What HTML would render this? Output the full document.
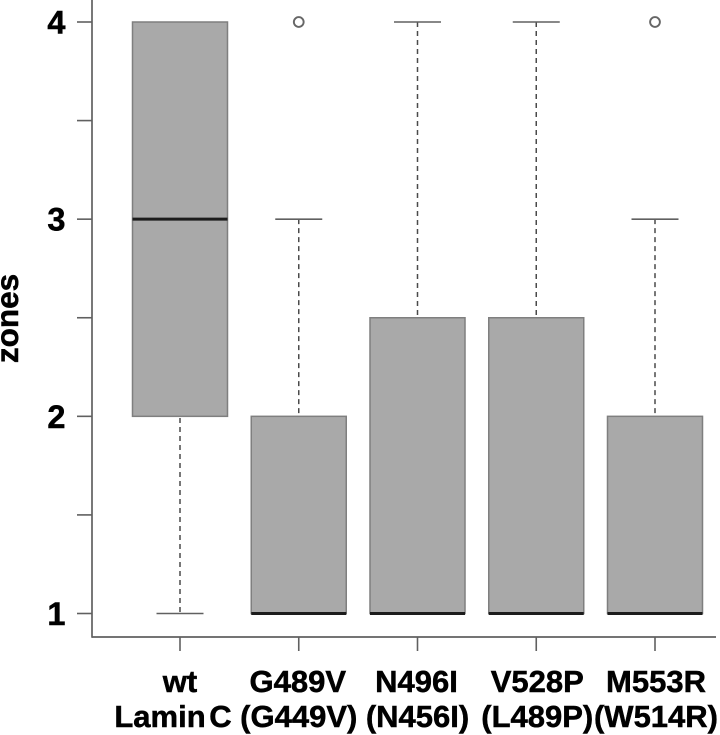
<!DOCTYPE html>
<html>
<head>
<meta charset="utf-8">
<style>
html,body{margin:0;padding:0;background:#fff;width:720px;height:735px;overflow:hidden}
svg{display:block}
text{font-family:"Liberation Sans",Arial,sans-serif;font-weight:bold;fill:#000;stroke:#000;stroke-width:0.5px}
#chart{filter:blur(0.35px)}
</style>
</head>
<body>
<svg id="chart" xmlns="http://www.w3.org/2000/svg" width="720" height="735" viewBox="0 0 720 735"></svg>
<script>
const categories = ["wt", "G489V", "N496I", "V528P", "M553R"];
const sublabels = ["Lamin C", "(G449V)", "(N456I)", "(L489P)", "(W514R)"];
const q1Values = [2, 1, 1, 1, 1];
const medianValues = [3, 1, 1, 1, 1];
const q3Values = [4, 2, 2.5, 2.5, 2];
const whiskerLowValues = [1, 1, 1, 1, 1];
const whiskerHighValues = [4, 3, 4, 4, 3];
const outlierValues = [[], [4], [], [], [4]];
const yTicks = [1, 1.5, 2, 2.5, 3, 3.5, 4];
const yTickLabels = ["1", "", "2", "", "3", "", "4"];

const NS = "http://www.w3.org/2000/svg";
const svg = document.getElementById("chart");
const yScale = v => 613.5 - (v - 1) * (613.5 - 22) / 3;
const xScale = i => 180 + i * 118.75;
const boxW = 95, capW = 47;
const labelNudge = [0, -1, -1, 1, 1];
const sublabelNudge = [-7, 0, 0, 1, 1];

function add(tag, attrs) {
  const el = document.createElementNS(NS, tag);
  for (const k in attrs) el.setAttribute(k, attrs[k]);
  svg.appendChild(el);
  return el;
}

categories.forEach((c, i) => {
  const x = xScale(i);
  const key = c.toLowerCase();

  const stem = add("line", {x1: x, x2: x, y1: yScale(whiskerHighValues[i]), y2: yScale(whiskerLowValues[i]), stroke: "#4a4a4a", "stroke-width": 1.5, "stroke-dasharray": "5 4"});
  
  

  [whiskerLowValues[i], whiskerHighValues[i]].forEach(v => {
    if (v === q1Values[i] || v === q3Values[i]) return;
    const cap = add("line", {x1: x - capW / 2, x2: x + capW / 2, y1: yScale(v), y2: yScale(v), stroke: "#606060", "stroke-width": 1.6});
    
    
  });

  const box = add("rect", {x: x - boxW / 2, y: yScale(q3Values[i]), width: boxW, height: yScale(q1Values[i]) - yScale(q3Values[i]), fill: "#a9a9a9", stroke: "#7f7f7f", "stroke-width": 1.5});
  
  

  const med = add("line", {x1: x - boxW / 2, x2: x + boxW / 2, y1: yScale(medianValues[i]), y2: yScale(medianValues[i]), stroke: "#1c1c1c", "stroke-width": 3});
  
  

  outlierValues[i].forEach(v => {
    const o = add("circle", {cx: x, cy: yScale(v), r: 4.9, fill: "#fff", stroke: "#666", "stroke-width": 1.9});
    
    
  });

  const tick = add("line", {x1: x, x2: x, y1: 637, y2: 651, stroke: "#606060", "stroke-width": 1.6});
  
  

  const t1 = add("text", {x: x + labelNudge[i], y: 692, "text-anchor": "middle", "font-size": 31});
  t1.textContent = c;
  
  

  const t2 = add("text", {x: x + sublabelNudge[i], y: 727, "text-anchor": "middle", "font-size": 31});
  if (i === 0) t2.setAttribute("word-spacing", "-5");
  t2.textContent = sublabels[i];
  
  
});

yTicks.forEach((v, i) => {
  const tick = add("line", {x1: 77, x2: 92, y1: yScale(v), y2: yScale(v), stroke: "#606060", "stroke-width": 1.6});
  
  
  if (yTickLabels[i]) {
    const t = add("text", {x: 65.5, y: yScale(v) + 11.5, "text-anchor": "end", "font-size": 32.5});
    t.textContent = yTickLabels[i];
    
    
  }
});

const yAxis = add("line", {x1: 92, x2: 92, y1: 0, y2: 637.8, stroke: "#606060", "stroke-width": 1.7});



const xAxis = add("line", {x1: 92, x2: 716, y1: 637, y2: 637, stroke: "#606060", "stroke-width": 1.7});



const yTitle = add("text", {x: 0, y: 0, transform: "translate(18 318.5) rotate(-90)", "text-anchor": "middle", "font-size": 31.5});
yTitle.textContent = "zones";


</script>
</body>
</html>
